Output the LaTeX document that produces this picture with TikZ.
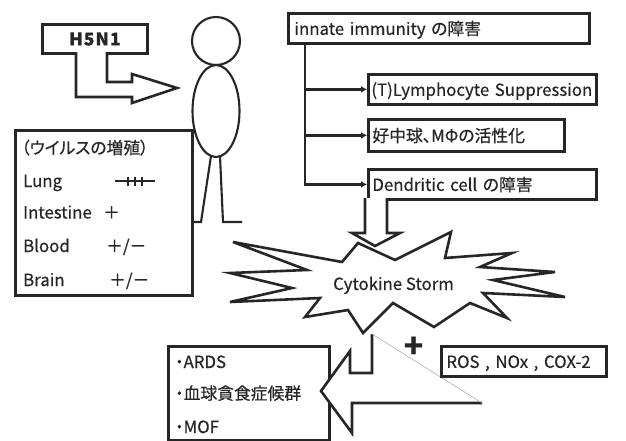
\documentclass[tikz,border=0pt]{standalone}
\usepackage{fontspec}
\setmainfont{Noto Sans CJK JP}[RawFeature=+palt, FakeBold=0.5]
\usetikzlibrary{arrows.meta,shapes.geometric}
\definecolor{ink}{HTML}{262626}
\begin{document}
\begin{tikzpicture}[x=1pt,y=-1pt,
  every node/.style={font=\fontsize{16.8}{19}\selectfont, text=ink, inner sep=0pt},
  box/.style={draw=ink, line width=2.8pt, fill=white, anchor=north west,
              inner xsep=6pt, align=left, text height=14pt, text depth=1pt},
  frame/.style={draw=ink, line width=2.5pt, fill=white, anchor=north west},
  figure/.style={draw=ink, line width=2.1pt},
  block/.style={draw=ink, line width=2.6pt, fill=white, line join=miter},
  conn/.style={draw=ink, line width=2.8pt, -{Latex[length=6pt,width=7pt]}},
  label/.style={anchor=base west}
]
\useasboundingbox[fill=white] (0,0) rectangle (626,440);

% --- virus entering the host ---
\node[box, minimum width=105pt, minimum height=29pt, inner xsep=0pt, align=center,
      font=\fontsize{17.5}{19}\selectfont\bfseries\addfontfeature{LetterSpace=6}] (virus) at (41,23) {H5N1};
\draw[block] (76,52) -- (76,97) -- (132,97) -- (132,103) -- (177,88)
  -- (132,74) -- (132,82) -- (107,82) -- (107,52);

% --- host figure ---
\node[figure, circle, minimum size=48pt] (head) at (216,41) {};
\node[figure, ellipse, minimum width=47pt, minimum height=92pt] (body) at (216,111) {};
\draw[figure] (211,156) -- (201,222) -- (192,222);
\draw[figure] (220,156) -- (223,222) -- (242,222);

% --- replication sites ---
\node[frame, minimum width=177pt, minimum height=165pt] (sites) at (14,129) {};
\node[label] (t0) at (21,154) {（ウイルスの増殖）};
\node[label] (t1) at (23,187) {Lung};
\node[label] (t2) at (23,218.5) {Intestine};
\node[label] (t3) at (23,252) {Blood};
\node[label] (t4) at (23,286) {Brain};
\draw[ink, line width=2.4pt] (115,181) -- (155,181)
  (128,176.5) -- (128,185.5) (135,176.5) -- (135,185.5) (142,176.5) -- (142,185.5);
\node[label] (v2) at (103,218.5) {＋};
\node[label] (v3) at (106,252) {＋/－};
\node[label] (v4) at (109,286) {＋/－};

% --- innate immunity ---
\node[box, minimum width=301pt, minimum height=30pt, text width=289pt] (innate) at (287,12)
  {innate immunity の障害};
\node[box, minimum width=228pt, minimum height=30pt, text width=222pt, inner xsep=3pt] (lym) at (367,73)
  {(T)Lymphocyte Suppression};
\node[box, minimum width=196pt, minimum height=32pt, text width=188pt, inner xsep=4pt] (neu) at (367,118)
  {好中球、MΦの活性化};
\node[box, minimum width=228pt, minimum height=30pt, text width=220pt, inner xsep=4pt] (dc) at (367,168)
  {Dendritic cell の障害};
\coordinate (trunk) at (305,42);
\draw[conn] (trunk) |- (dc.west);
\draw[conn] (trunk |- lym.west) -- (lym.west);
\draw[conn] (trunk |- neu.west) -- (neu.west);

% --- cytokine storm ---
\draw[block] (233,242) -- (342,262) -- (358,243) -- (395,260) -- (451,232)
  -- (445,258) -- (512,253) -- (480,267) -- (555,272) -- (493,280)
  -- (565,297) -- (483,293) -- (507,318) -- (470,303) -- (434,327)
  -- (393,303) -- (363,333) -- (348,310) -- (305,317) -- (320,298)
  -- (230,302) -- (292,288) -- (230,273) -- (307,270) -- cycle;
\node[anchor=base] (storm) at (393.5,290) {Cytokine Storm};
\draw[block] (365,198) -- (365,233) -- (352,233) -- (375,246)
  -- (400,233) -- (387,233) -- (387,198);

% --- outcome ---
\node[frame, minimum width=161pt, minimum height=94pt] (out) at (167,345) {};
\node[label] (o1) at (175,368) {・ARDS};
\node[label] (o2) at (175,399.5) {・血球貪食症候群};
\node[label] (o3) at (175,433) {・MOF};
\draw[block] (482,403) -- (352,403) -- (352,433) -- (321,391) -- (350,351)
  -- (350,373) -- (372,373) -- (372,334);
\draw[gray!70, line width=0.5pt] (372,334) -- (482,403);

\node[font=\fontsize{32}{32}\selectfont\bfseries] (plus) at (413.5,347) {+};
\node[box, minimum width=165pt, minimum height=30pt, text width=155pt, inner xsep=5pt] (ros) at (440,345)
  {ROS , NOx , COX-2};
\end{tikzpicture}
\end{document}
